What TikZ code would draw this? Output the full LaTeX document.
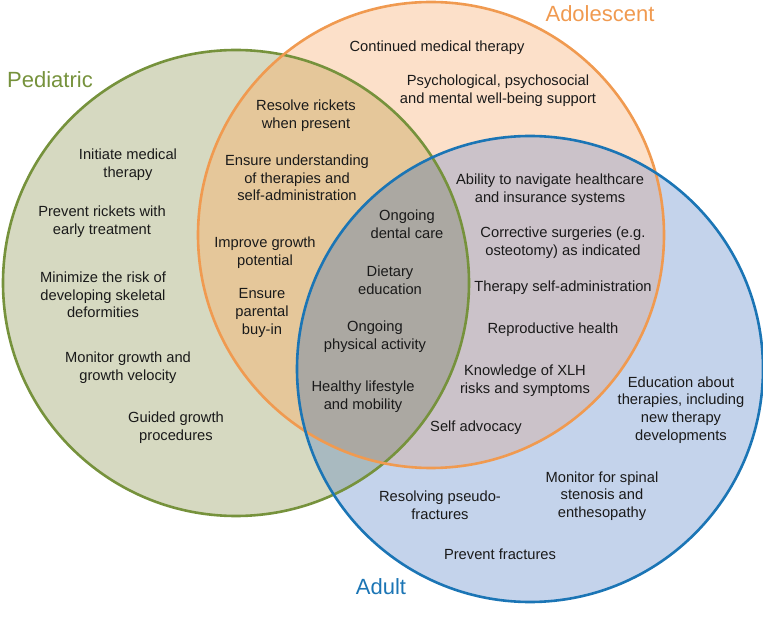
\documentclass[tikz,border=0pt]{standalone}
\usepackage{fontspec}
\setmainfont{Liberation Sans}
\usepackage{tikz}
\usetikzlibrary{positioning}
\definecolor{pedline}{HTML}{76923C}
\definecolor{adoline}{HTML}{F09A50}
\definecolor{adultline}{HTML}{1B75B5}
\definecolor{pedfill}{HTML}{D6D9C1}
\definecolor{adofill}{HTML}{FCE0C9}
\definecolor{adultfill}{HTML}{C4D3EB}
\definecolor{pedado}{HTML}{E5C79A}
\definecolor{adoadult}{HTML}{CBC2C9}
\definecolor{pedadult}{HTML}{A9BAC0}
\definecolor{allthree}{HTML}{ABA8A2}
\definecolor{itemtext}{HTML}{1A1A1A}

\begin{document}
\begin{tikzpicture}[x=1pt, y=-1pt]
\tikzset{
    item/.style={
       align=center,
       text=itemtext,
       inner sep=0pt,
       font=\fontsize{14.7}{17.7}\selectfont
    },
   setname/.style={
     inner sep=0pt,
     font=\fontsize{22}{26}\selectfont
   },
   ring/.style={
     line width=2.6pt
   }
}
\useasboundingbox (0,0) rectangle (763,617);
%
% the three sets
\fill[pedfill] (236,283) circle[radius=233pt];
\fill[adofill] (431,235) circle[radius=233pt];
\fill[adultfill] (530,369) circle[radius=233pt];
\begin{scope}
\clip (236,283) circle[radius=233pt];
\fill[pedado] (431,235) circle[radius=233pt];
\fill[pedadult] (530,369) circle[radius=233pt];
\end{scope}
\begin{scope}
\clip (431,235) circle[radius=233pt];
\fill[adoadult] (530,369) circle[radius=233pt];
\clip (236,283) circle[radius=233pt];
\fill[allthree] (530,369) circle[radius=233pt];
\end{scope}
\draw[ring, pedline] (236,283) circle[radius=233pt];
\draw[ring, adoline] (431,235) circle[radius=233pt];
\draw[ring, adultline] (530,369) circle[radius=233pt];

\node[setname, text=pedline] (ped) at (50,80) {Pediatric};
\node[setname, text=adoline] (ado) at (600,14) {Adolescent};
\node[setname, text=adultline] (adult) at (381,587) {Adult};

% pediatric only
\node[item] (initiate) at (128,165) {Initiate medical\\therapy};
\node[item] (prevrick) at (102,222) {Prevent rickets with\\early treatment};
\node[item] (minrisk) at (103,295) {Minimize the risk of\\developing skeletal\\deformities};
\node[item] (mongrowth) at (128,368) {Monitor growth and\\growth velocity};
\node[item] (guided) at (176,428) {Guided growth\\procedures};

% pediatric and adolescent
\node[item] (resolve) at (306,116) {Resolve rickets\\when present};
\node[item] (ensureund) at (297,178) {Ensure understanding\\of therapies and\\self-administration};
\node[item] (improve) at (265,253) {Improve growth\\potential};
\node[item] (buyin) at (262,313) {Ensure\\parental\\buy-in};

% adolescent only
\node[item] (continued) at (437,48) {Continued medical therapy};
\node[item] (psych) at (498,91) {Psychological, psychosocial\\and mental well-being support};

% adolescent and adult
\node[item] (navigate) at (550,190) {Ability to navigate healthcare\\and insurance systems};
\node[item] (corrective) at (563,243) {Corrective surgeries (e.g.\\osteotomy) as indicated};
\node[item] (selfadmin) at (563,288) {Therapy self-administration};
\node[item] (reprod) at (553,330) {Reproductive health};
\node[item] (knowledge) at (525,381) {Knowledge of XLH\\risks and symptoms};
\node[item] (advocacy) at (476,428) {Self advocacy};

% all three
\node[item] (dental) at (407,224) {Ongoing\\dental care};
\node[item] (dietary) at (390,280) {Dietary\\education};
\node[item] (physical) at (375,337) {Ongoing\\physical activity};
\node[item] (healthy) at (363,397) {Healthy lifestyle\\and mobility};

% adult only
\node[item] (education) at (681,410) {Education about\\therapies, including\\new therapy\\developments};
\node[item] (spinal) at (602,496) {Monitor for spinal\\stenosis and\\enthesopathy};
\node[item] (pseudo) at (440,505) {Resolving pseudo-\\fractures};
\node[item] (prevfract) at (500,554) {Prevent fractures};
\end{tikzpicture}
\end{document}
